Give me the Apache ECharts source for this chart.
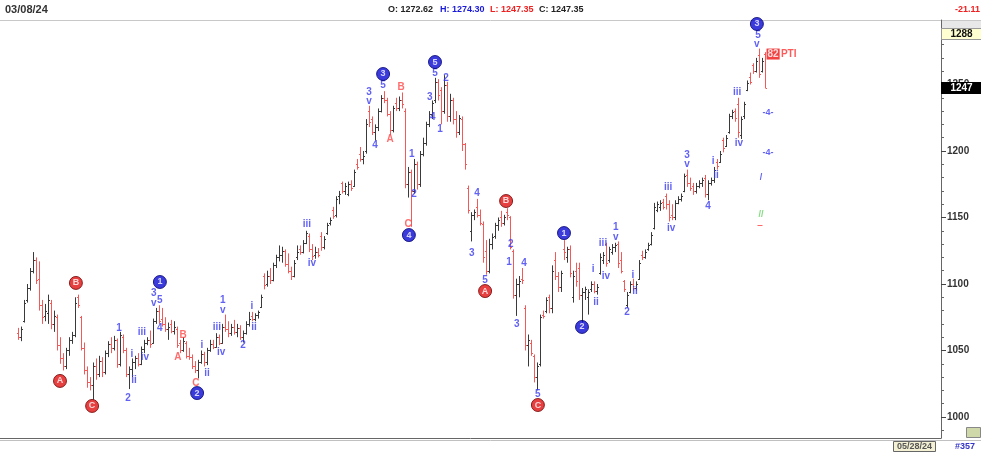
<!DOCTYPE html>
<html>
<head>
<meta charset="utf-8">
<script src="https://cdn.jsdelivr.net/npm/echarts@6.0.0/dist/echarts.min.js"></script>
<style>
html,body{margin:0;padding:0;background:#fff;}
#chart{width:981px;height:452px;}
</style>
</head>
<body>
<div id="chart"></div>
<script>
// OHLC bars: [open, high, low, close]
const ohlc = [
[1063,1067,1058,1060],[1060,1068,1057,1066],[1072,1088,1071,1086],[1088,1100,1086,1097],[1097,1112,1095,1110],[1110,1124,1108,1118],[1118,1120,1100,1103],[1104,1117,1080,1084],[1084,1088,1070,1075],[1076,1085,1072,1080],
[1078,1092,1070,1088],[1086,1088,1066,1070],[1070,1080,1064,1076],[1075,1077,1050,1054],[1054,1060,1040,1044],[1044,1048,1035,1038],[1038,1052,1036,1050],[1050,1060,1046,1058],[1058,1064,1055,1062],[1062,1090,1060,1086],
[1090,1092,1082,1084],[1075,1076,1050,1052],[1052,1056,1032,1035],[1035,1038,1022,1026],[1026,1030,1020,1024],[1024,1041,1013,1038],[1038,1044,1028,1032],[1032,1046,1030,1042],[1042,1045,1030,1034],[1034,1050,1032,1048],
[1048,1057,1045,1055],[1055,1060,1048,1052],[1052,1061,1050,1058],[1058,1059,1037,1040],[1040,1064,1038,1062],[1060,1062,1048,1050],[1050,1052,1030,1032],[1032,1038,1021,1036],[1036,1044,1030,1041],[1041,1046,1036,1044],
[1044,1048,1038,1040],[1040,1053,1039,1051],[1051,1058,1048,1056],[1056,1060,1054,1058],[1058,1065,1052,1055],[1056,1074,1055,1072],[1072,1082,1070,1080],[1080,1084,1070,1072],[1074,1082,1068,1070],[1070,1075,1064,1066],
[1066,1071,1058,1068],[1070,1073,1063,1065],[1065,1072,1062,1068],[1066,1068,1052,1054],[1056,1058,1048,1050],[1050,1060,1049,1057],[1056,1057,1044,1046],[1046,1052,1043,1045],[1045,1047,1036,1038],[1038,1042,1033,1035],
[1035,1043,1029,1041],[1041,1050,1040,1047],[1047,1049,1038,1041],[1041,1052,1039,1050],[1050,1058,1049,1055],[1055,1058,1051,1053],[1053,1063,1052,1060],[1060,1062,1054,1056],[1056,1070,1055,1068],[1068,1077,1064,1066],
[1066,1072,1060,1063],[1063,1070,1061,1068],[1068,1073,1062,1064],[1064,1070,1060,1067],[1067,1069,1058,1060],[1060,1065,1056,1063],[1063,1072,1062,1070],[1070,1079,1068,1074],[1076,1079,1072,1074],[1074,1078,1072,1077],
[1077,1080,1074,1079],[1083,1092,1082,1090],[1106,1108,1096,1099],[1100,1110,1098,1106],[1106,1112,1100,1103],[1103,1116,1102,1114],[1114,1122,1112,1120],[1120,1129,1117,1122],[1122,1128,1116,1125],[1125,1126,1113,1115],
[1115,1123,1108,1110],[1110,1113,1103,1106],[1106,1118,1105,1116],[1120,1129,1118,1124],[1126,1129,1122,1124],[1124,1133,1123,1131],[1131,1140,1130,1138],[1136,1138,1124,1126],[1126,1130,1118,1121],[1122,1128,1119,1124],
[1124,1127,1120,1122],[1136,1139,1125,1128],[1128,1136,1126,1134],[1138,1146,1137,1144],[1146,1150,1144,1148],[1156,1158,1149,1151],[1152,1166,1150,1164],[1166,1170,1160,1168],[1176,1177,1168,1170],[1170,1176,1167,1174],
[1168,1177,1166,1175],[1175,1178,1170,1172],[1174,1186,1173,1184],[1190,1194,1186,1188],[1198,1203,1192,1194],[1194,1200,1190,1196],[1200,1224,1198,1220],[1230,1234,1218,1222],[1224,1226,1212,1214],[1214,1220,1208,1218],
[1218,1232,1215,1230],[1230,1242,1229,1240],[1240,1245,1236,1238],[1238,1240,1226,1228],[1228,1230,1212,1216],[1216,1234,1214,1232],[1236,1240,1230,1232],[1232,1241,1230,1238],[1238,1244,1232,1235],[1230,1232,1172,1175],
[1175,1188,1165,1184],[1184,1186,1143,1170],[1170,1194,1168,1190],[1190,1192,1171,1175],[1175,1200,1173,1198],[1198,1210,1196,1206],[1206,1222,1204,1220],[1220,1230,1218,1228],[1228,1238,1224,1236],[1238,1255,1236,1252],
[1252,1254,1238,1242],[1246,1248,1220,1230],[1230,1257,1228,1250],[1250,1252,1222,1226],[1226,1243,1222,1238],[1238,1240,1220,1224],[1224,1230,1210,1214],[1214,1227,1212,1225],[1224,1226,1200,1205],[1205,1206,1186,1190],
[1172,1174,1153,1156],[1140,1154,1132,1152],[1152,1156,1148,1154],[1158,1164,1150,1152],[1152,1156,1144,1146],[1145,1147,1116,1120],[1125,1133,1107,1110],[1110,1134,1108,1130],[1130,1138,1126,1135],[1136,1146,1134,1144],
[1144,1150,1140,1148],[1150,1155,1143,1146],[1146,1152,1144,1150],[1154,1157,1148,1152],[1150,1151,1126,1128],[1125,1126,1089,1092],[1092,1104,1076,1100],[1100,1106,1090,1102],[1104,1112,1100,1103],[1082,1084,1050,1054],
[1054,1062,1038,1058],[1056,1058,1046,1048],[1046,1047,1026,1030],[1030,1041,1020,1038],[1040,1077,1038,1075],[1077,1080,1074,1076],[1080,1090,1078,1088],[1090,1092,1078,1082],[1082,1114,1078,1110],[1118,1124,1103,1106],
[1106,1109,1094,1098],[1098,1110,1094,1108],[1126,1133,1118,1124],[1120,1128,1116,1126],[1126,1129,1105,1108],[1090,1110,1086,1106],[1110,1116,1098,1102],[1112,1116,1088,1092],[1092,1097,1071,1094],[1094,1098,1088,1096],
[1090,1096,1077,1094],[1096,1102,1094,1100],[1100,1102,1093,1095],[1095,1100,1092,1098],[1108,1123,1107,1120],[1118,1124,1115,1122],[1130,1131,1113,1116],[1118,1128,1116,1126],[1124,1130,1122,1128],[1128,1131,1124,1129],
[1130,1132,1112,1116],[1118,1124,1108,1110],[1102,1103,1094,1096],[1084,1094,1082,1092],[1094,1102,1093,1100],[1100,1104,1095,1097],[1097,1102,1095,1100],[1104,1118,1103,1116],[1122,1125,1118,1120],[1120,1126,1119,1124],
[1126,1131,1125,1129],[1130,1139,1129,1137],[1142,1161,1141,1158],[1156,1162,1154,1160],[1158,1163,1155,1161],[1162,1164,1156,1158],[1166,1168,1156,1160],[1160,1163,1147,1150],[1152,1160,1148,1150],[1150,1163,1148,1161],
[1161,1166,1160,1164],[1164,1168,1162,1166],[1170,1183,1169,1181],[1182,1186,1173,1176],[1176,1180,1170,1172],[1174,1176,1167,1170],[1170,1176,1168,1174],[1174,1178,1172,1176],[1176,1180,1173,1178],[1180,1182,1165,1168],
[1168,1178,1163,1176],[1176,1180,1174,1178],[1178,1188,1176,1186],[1192,1194,1186,1189],[1192,1200,1191,1198],[1208,1210,1199,1202],[1204,1212,1203,1210],[1214,1228,1213,1226],[1226,1231,1224,1229],[1230,1232,1222,1225],
[1235,1240,1210,1214],[1212,1226,1209,1224],[1226,1237,1224,1235],[1246,1253,1245,1251],[1256,1259,1250,1252],[1265,1266,1258,1260],[1260,1270,1259,1268],[1272,1277,1255,1258],[1260,1270,1259,1268],[1272.62,1274.30,1247.35,1247.35]
];

// Axis tick values
const yTickLabels = [1000,1050,1100,1150,1200,1250];
const yMinorTicks = [990,1000,1010,1020,1030,1040,1050,1060,1070,1080,1090,1100,1110,1120,1130,1140,1150,1160,1170,1180,1190,1200,1210,1220,1230,1240,1250,1260,1270,1280,1290];

// Elliott wave annotations: [bar index, price, text]
const waveBlueText = [
[33.7,1066.9,'1'],[36.7,1014.3,'2'],[38,1047.4,'i'],[38.7,1027.8,'ii'],[41.3,1063.9,'iii'],[42.3,1045.1,'iv'],
[45.3,1093.2,'3'],[45.3,1085.7,'v'],[47.3,1088,'5'],[47.3,1066.9,'4'],
[61.3,1054.1,'i'],[63,1033.1,'ii'],[66.3,1067.7,'iii'],[67.7,1048.9,'iv'],[68.3,1088,'1'],[68.3,1080.5,'v'],
[75,1054.1,'2'],[78,1083.5,'i'],[78.7,1067.7,'ii'],[96.3,1145.1,'iii'],[98,1115.8,'iv'],
[117,1244.4,'3'],[117,1237.6,'v'],[121.7,1249.6,'5'],[119,1204.5,'4'],
[131.3,1197.7,'1'],[132,1167.7,'2'],[137.3,1240.6,'3'],[138.3,1225.6,'4'],[139,1258.6,'5'],[142.7,1254.9,'2'],[140.7,1216.5,'1'],
[153,1168.4,'4'],[151.3,1123.3,'3'],[155.7,1103,'5'],[164.3,1130.1,'2'],[163.7,1116.5,'1'],[168.7,1115.8,'4'],[166.3,1069.9,'3'],[173.3,1017.3,'5'],
[191.7,1111.3,'i'],[192.7,1086.5,'ii'],[195,1130.8,'iii'],[196,1106,'iv'],[199.3,1142.9,'1'],[199.3,1135.3,'v'],
[203,1078.9,'2'],[205,1106.8,'i'],[205.7,1094.7,'ii'],[216.7,1172.9,'iii'],[217.7,1142.1,'iv'],
[223,1197,'3'],[223,1190.2,'v'],[230,1158.6,'4'],[231.7,1192.5,'i'],[232.7,1182,'ii'],
[239.7,1244.4,'iii'],[240.3,1206,'iv'],[246.7,1287.2,'5'],[246.3,1280.5,'v']
];
const waveRedText = [
[53.3,1045.1,'A'],[55,1061.7,'B'],[59.3,1025.6,'C'],[124,1209,'A'],[127.7,1248.1,'B'],[130,1145.1,'C']
];
const blueCircles = [
[47.3,1101.5,'1'],[59.7,1018,'2'],[121.7,1257.9,'3'],[130.3,1136.8,'4'],[139,1266.9,'5'],
[182,1138.3,'1'],[188,1067.7,'2'],[246.3,1295.5,'3']
];
const redCircles = [
[14,1027.1,'A'],[19.3,1100.8,'B'],[24.7,1008.3,'C'],[155.7,1094.7,'A'],[162.7,1162.4,'B'],[173.3,1009,'C']
];
// projection markers right of the last bar: [index, price, text, colour]
const projMarks = [
[250,1229.3,'-4-','#3a3af0'],[250,1198.5,'-4-','#3a3af0'],[247.7,1179.7,'/','#3a3af0'],
[247.7,1152.6,'//','#5fd35f'],[247.3,1143.6,'\u2012','#ff3030']
];
const ptiBox = [251.7,1272.9,'82'];
const ptiText = [256.9,1272.9,'PTI'];

const priceHighTag = 1288;
const priceLastTag = 1247;
const hdrDate = '03/08/24';
const hdrOpen = 'O: 1272.62';
const hdrHigh = 'H: 1274.30';
const hdrLow = 'L: 1247.35';
const hdrClose = 'C: 1247.35';
const hdrChange = '-21.11';
const footDate = '05/28/24';
const footBar = '#357';

const FF = "'Liberation Sans',Arial,sans-serif";

const chart = echarts.init(document.getElementById('chart'), null, {renderer:'canvas'});

const barData = ohlc.map((b, i) => [i, b[0], b[1], b[2], b[3]]);

function renderOHLC(params, api) {
  const i = api.value(0), o = api.value(1), h = api.value(2), l = api.value(3), c = api.value(4);
  const pH = api.coord([i, h]), pL = api.coord([i, l]), pO = api.coord([i, o]), pC = api.coord([i, c]);
  const x = Math.round(pH[0]) + 0.5;
  const col = c < o ? '#f25a5a' : '#3a3a3a';
  const yo = Math.round(pO[1]) + 0.5, yc = Math.round(pC[1]) + 0.5;
  return {
    type: 'group',
    children: [
      {type:'line', shape:{x1:x, y1:pH[1], x2:x, y2:pL[1]}, style:{stroke:col, lineWidth:1}},
      {type:'line', shape:{x1:x-1.5, y1:yo, x2:x, y2:yo}, style:{stroke:col, lineWidth:1}},
      {type:'line', shape:{x1:x, y1:yc, x2:x+1.5, y2:yc}, style:{stroke:col, lineWidth:1}}
    ]
  };
}

function textPoints(arr) {
  return arr.map(d => ({value:[d[0], d[1]], label:{formatter:d[2]}}));
}

const option = {
  animation: false,
  backgroundColor: '#ffffff',
  grid: {left: 0, right: 40, top: 20, bottom: 14, containLabel: false},
  xAxis: {
    type: 'value', min: -6, max: 307.67,
    axisLine: {show: true, onZero: false, lineStyle: {color: '#666', width: 1}},
    axisTick: {show: false}, axisLabel: {show: false}, splitLine: {show: false}
  },
  yAxis: [
    {
      type: 'value', position: 'right', min: 984.2, max: 1298.5, scale: true,
      axisLine: {show: true, onZero: false, lineStyle: {color: '#666', width: 1}},
      axisTick: {show: true, inside: false, length: 3, customValues: yMinorTicks, lineStyle: {color: '#666'}},
      axisLabel: {show: false},
      splitLine: {show: false}
    },
    {
      type: 'value', position: 'right', min: 984.2, max: 1298.5, scale: true,
      axisLine: {show: false, onZero: false},
      axisTick: {show: true, length: 5, customValues: yTickLabels, lineStyle: {color: '#444'}},
      axisLabel: {show: true, customValues: yTickLabels, margin: 6, color: '#333', fontSize: 10, fontWeight: 'bold', fontFamily: FF,
        formatter: v => String(v)},
      splitLine: {show: false}
    }
  ],
  series: [
    {
      type: 'custom', name: 'price', renderItem: renderOHLC, data: barData,
      encode: {x: 0, y: [2, 3]}, clip: false, silent: true, z: 2
    },
    {
      type: 'scatter', name: 'waveBlue', data: textPoints(waveBlueText), symbolSize: 0, silent: true, z: 5,
      label: {show: true, position: 'inside', color: '#3a3af0', fontSize: 10, fontWeight: 'bold', fontFamily: FF}
    },
    {
      type: 'scatter', name: 'waveRed', data: textPoints(waveRedText), symbolSize: 0, silent: true, z: 5,
      label: {show: true, position: 'inside', color: '#ff4a4a', fontSize: 10, fontWeight: 'bold', fontFamily: FF}
    },
    {
      type: 'scatter', name: 'circleBlue', data: textPoints(blueCircles), symbol: 'circle', symbolSize: 13, silent: true, z: 6, clip: false,
      itemStyle: {color: '#0a0ad2', borderColor: '#000070', borderWidth: 1},
      label: {show: true, position: 'inside', color: '#fff', fontSize: 9, fontWeight: 'bold', fontFamily: FF}
    },
    {
      type: 'scatter', name: 'circleRed', data: textPoints(redCircles), symbol: 'circle', symbolSize: 13, silent: true, z: 6,
      itemStyle: {color: '#e01010', borderColor: '#700000', borderWidth: 1},
      label: {show: true, position: 'inside', color: '#fff', fontSize: 9, fontWeight: 'bold', fontFamily: FF}
    },
    {
      type: 'scatter', name: 'proj', symbolSize: 0, silent: true, z: 5,
      data: projMarks.map(d => ({value: [d[0], d[1]], label: {formatter: d[2], color: d[3]}})),
      label: {show: true, position: 'inside', fontSize: 9, fontWeight: 'bold', fontFamily: FF}
    },
    {
      type: 'scatter', name: 'pti', symbolSize: 0, silent: true, z: 6,
      data: [
        {value: [ptiBox[0], ptiBox[1]], label: {formatter: ptiBox[2], backgroundColor: '#ee1111', color: '#fff', padding: [1, 1, 0, 1]}},
        {value: [ptiText[0], ptiText[1]], label: {formatter: ptiText[2], color: '#ff3030'}}
      ],
      label: {show: true, position: 'inside', fontSize: 10, fontWeight: 'bold', fontFamily: FF}
    }
  ],
  graphic: [
    {type: 'line', silent: true, shape: {x1: 0, y1: 20.5, x2: 981, y2: 20.5}, style: {stroke: '#c8c8c8', lineWidth: 1}},
    {type: 'rect', silent: true, shape: {x: 941.5, y: 21, width: 40, height: 7}, style: {fill: '#e8e8e8'}},
    {type: 'line', silent: true, shape: {x1: 0, y1: 440.5, x2: 981, y2: 440.5}, style: {stroke: '#c0c0c0', lineWidth: 1}},
    {type: 'text', silent: true, style: {text: hdrDate, x: 5, y: 10, fill: '#333', font: 'bold 11px ' + FF, verticalAlign: 'middle'}},
    {type: 'text', silent: true, style: {text: hdrOpen, x: 388, y: 10, fill: '#222', font: 'bold 9px ' + FF, verticalAlign: 'middle'}},
    {type: 'text', silent: true, style: {text: hdrHigh, x: 440, y: 10, fill: '#1a1ad8', font: 'bold 9px ' + FF, verticalAlign: 'middle'}},
    {type: 'text', silent: true, style: {text: hdrLow, x: 490, y: 10, fill: '#ee2020', font: 'bold 9px ' + FF, verticalAlign: 'middle'}},
    {type: 'text', silent: true, style: {text: hdrClose, x: 539, y: 10, fill: '#222', font: 'bold 9px ' + FF, verticalAlign: 'middle'}},
    {type: 'text', silent: true, style: {text: hdrChange, x: 980, y: 10, fill: '#ee2020', font: 'bold 9px ' + FF, align: 'right', verticalAlign: 'middle'}},
    {type: 'rect', silent: true, shape: {x: 893.5, y: 441.5, width: 42, height: 10}, style: {fill: '#f4f0d4', stroke: '#666', lineWidth: 1}},
    {type: 'text', silent: true, style: {text: footDate, x: 914.5, y: 447, fill: '#555', font: 'bold 9px ' + FF, align: 'center', verticalAlign: 'middle'}},
    {type: 'text', silent: true, style: {text: footBar, x: 955, y: 447, fill: '#3535c8', font: 'bold 9px ' + FF, verticalAlign: 'middle'}},
    {type: 'rect', silent: true, shape: {x: 966.5, y: 427.5, width: 14, height: 10}, style: {fill: '#cfd8a8', stroke: '#888', lineWidth: 1}}
  ]
};

chart.setOption(option);

// Price tags on the right axis, placed through the y scale
const yHigh = chart.convertToPixel({yAxisIndex: 0}, priceHighTag);
const yLast = chart.convertToPixel({yAxisIndex: 0}, priceLastTag);
const gridRight = chart.convertToPixel({xAxisIndex: 0}, 307.67);
chart.setOption({
  graphic: option.graphic.concat([
    {type: 'rect', silent: true, z: 100, shape: {x: gridRight + 0.5, y: Math.round(yHigh) - 5.5, width: 40, height: 11},
      style: {fill: '#ffffd2', stroke: '#999', lineWidth: 1}},
    {type: 'text', silent: true, z: 101, style: {text: String(priceHighTag), x: gridRight + 20.5, y: Math.round(yHigh), fill: '#111',
      font: 'bold 10px ' + FF, align: 'center', verticalAlign: 'middle'}},
    {type: 'rect', silent: true, z: 100, shape: {x: gridRight, y: Math.round(yLast) - 6, width: 41, height: 12},
      style: {fill: '#000'}},
    {type: 'text', silent: true, z: 101, style: {text: String(priceLastTag), x: gridRight + 20.5, y: Math.round(yLast), fill: '#fff',
      font: 'bold 10px ' + FF, align: 'center', verticalAlign: 'middle'}}
  ])
}, {replaceMerge: ['graphic']});
</script>
</body>
</html>
